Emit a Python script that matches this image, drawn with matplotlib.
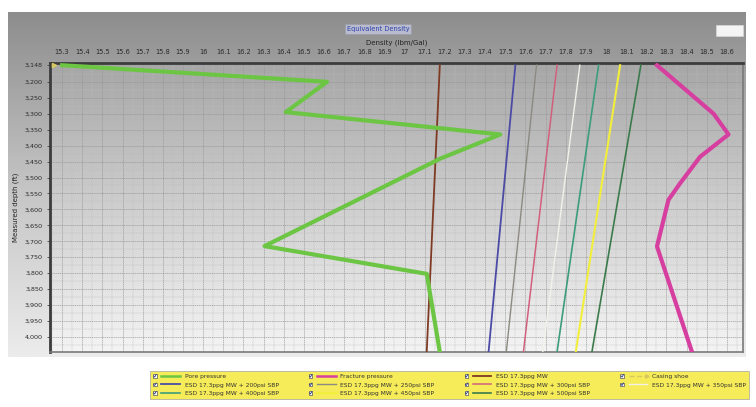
import numpy as np
import matplotlib
matplotlib.use("Agg")
import matplotlib.pyplot as plt
from matplotlib.lines import Line2D
from matplotlib.patches import Rectangle
from matplotlib.legend_handler import HandlerLine2D
from matplotlib.ticker import FixedLocator, MultipleLocator


# pore / fracture profiles (ppg vs measured depth, ft)
pore_depth = [3148, 3200, 3295, 3365, 3440, 3715, 3802, 4047]
pore_ppg = [15.30, 16.615, 16.41, 17.475, 17.18, 16.305, 17.11, 17.175]

frac_depth = [3148, 3300, 3365, 3435, 3518, 3570, 3716, 4047]
frac_ppg = [18.253, 18.534, 18.608, 18.467, 18.368, 18.31, 18.253, 18.427]

# ESD lines, top and bottom of the section
end_depth = [3148, 4047]
esd_ppg = [17.175, 17.11]
sbp_psi = [200, 250, 300, 350, 400, 450, 500]
sbp_top = [17.55, 17.655, 17.757, 17.87, 17.963, 18.07, 18.173]
sbp_bot = [17.417, 17.505, 17.59, 17.686, 17.757, 17.85, 17.93]
sbp_colors = ["#4b4ba6", "#8c8a80", "#d0607c", "#f2f2ea", "#3c9c7c", "#f2ef3c", "#3b7b4b"]
sbp_widths = [1.3, 1.0, 1.1, 1.0, 1.2, 1.5, 1.2]

shoe_depth = [3148]
shoe_ppg = [15.26]

x_ticks = [round(15.3 + 0.1 * i, 1) for i in range(34)]
depth_ticks = [3148] + list(range(3200, 4001, 50))


class CheckHandler(HandlerLine2D):
    # checkbox in front of the line sample
    def create_artists(self, legend, orig_handle, xdescent, ydescent,
                       width, height, fontsize, trans):
        s = height * 0.9
        box = Rectangle((-xdescent, -ydescent + (height - s) / 2), s, s,
                        facecolor="white", edgecolor="#555555", lw=0.5,
                        transform=trans)
        tick = Line2D([-xdescent + s * 0.2, -xdescent + s * 0.45, -xdescent + s * 0.85],
                      [-ydescent + height * 0.5, -ydescent + height * 0.25, -ydescent + height * 0.85],
                      color="#2a3a8a", lw=0.6, transform=trans)
        x0 = -xdescent + s * 2.2
        ym = -ydescent + height / 2
        ln = Line2D([x0, -xdescent + width], [ym, ym],
                    color=orig_handle.get_color(),
                    lw=min(orig_handle.get_linewidth(), 1.8),
                    ls=orig_handle.get_linestyle(), transform=trans)
        arts = [box, tick, ln]
        if orig_handle.get_marker() not in (None, "None", ""):
            mk = Line2D([-xdescent + width], [ym], marker=orig_handle.get_marker(),
                        markersize=2.5, color=orig_handle.get_color(),
                        ls="none", transform=trans)
            arts.append(mk)
        return arts


W, H = 756, 407
fig = plt.figure(figsize=(W / 100, H / 100), dpi=100, facecolor="white")

# gray panel behind the chart
panel = fig.add_axes([8 / W, 1 - 357 / H, 738 / W, 345 / H], zorder=-2)
grad = np.linspace(0, 1, 256).reshape(-1, 1)
panel.imshow(grad, cmap=matplotlib.colors.LinearSegmentedColormap.from_list(
    "p", ["#8d8d8d", "#c4c4c4", "#ececec"]), aspect="auto", extent=[0, 1, 0, 1])
panel.set_axis_off()

ax = fig.add_axes([50 / W, 1 - 352 / H, 693 / W, 289 / H])
ax.imshow(grad, cmap=matplotlib.colors.LinearSegmentedColormap.from_list(
    "a", ["#a6a6a6", "#cfcfcf", "#f4f4f4"]), aspect="auto",
    extent=[0, 1, 0, 1], transform=ax.transAxes, zorder=0)

ax.plot(pore_ppg, pore_depth, color="#6cc644", lw=3, label="Pore pressure", zorder=5)
ax.plot(frac_ppg, frac_depth, color="#d63fa0", lw=3, label="Fracture pressure", zorder=5)
ax.plot(esd_ppg, end_depth, color="#7e3a22", lw=1.3, label="ESD 17.3ppg MW", zorder=4)
sbp_lines = []
for p, t, b, c, w in zip(sbp_psi, sbp_top, sbp_bot, sbp_colors, sbp_widths):
    l, = ax.plot([t, b], end_depth, color=c, lw=w,
                 label=f"ESD 17.3ppg MW + {p}psi SBP", zorder=4)
    sbp_lines.append(l)
shoe, = ax.plot(shoe_ppg, shoe_depth, color="#d8c860", lw=1, ls="--", marker=">",
                markersize=3, label="Casing shoe", zorder=6)

ax.set_xlim(15.24, 18.68)
ax.set_ylim(4047, 3141)

ax.xaxis.tick_top()
ax.xaxis.set_label_position("top")
ax.xaxis.set_major_locator(FixedLocator(x_ticks))
ax.set_xticklabels([f"{v:g}" for v in x_ticks])
ax.xaxis.set_minor_locator(MultipleLocator(0.05))
ax.yaxis.set_major_locator(FixedLocator(depth_ticks))
ax.set_yticklabels([f"{d:,}" for d in depth_ticks])
ax.yaxis.set_minor_locator(MultipleLocator(25))

ax.tick_params(axis="x", which="both", length=0, pad=6, labelsize=4.8, labelcolor="#2a2a2a")
ax.tick_params(axis="y", which="major", length=2, width=0.6, pad=3, labelsize=4.6,
               labelcolor="#2a2a2a", color="#444444")
ax.tick_params(axis="y", which="minor", length=0)

ax.grid(which="major", color="#959595", lw=0.45, ls=(0, (2, 1)), zorder=1)
ax.grid(which="minor", color="#bdbdbd", lw=0.35, ls=(0, (2, 1)), zorder=1)
ax.set_axisbelow(True)

ax.set_xlabel("Density (lbm/Gal)", fontsize=5, color="#222222", labelpad=3)
ax.set_ylabel("Measured depth (ft)", fontsize=5, color="#222222", labelpad=4)

for side in ("top", "left"):
    ax.spines[side].set_color("#3c3c3c")
    ax.spines[side].set_linewidth(2)
for side in ("bottom", "right"):
    ax.spines[side].set_color("#7a7a7a")
    ax.spines[side].set_linewidth(1.2)

# chart title and logo box
fig.text(378 / W, 1 - 29 / H, "Equivalent Density", fontsize=4.8, color="#3040b0",
         ha="center", va="center",
         bbox=dict(boxstyle="square,pad=0.3", facecolor="#b8bccc", edgecolor="#9a9aa8", lw=0.4))
fig.patches.append(Rectangle((716 / W, 1 - 36 / H), 27 / W, 11 / H, transform=fig.transFigure,
                             facecolor="#f4f4f4", edgecolor="#dddddd", lw=0.4))

handles = [ax.lines[0], sbp_lines[0], sbp_lines[4],
           ax.lines[1], sbp_lines[1], sbp_lines[5],
           ax.lines[2], sbp_lines[2], sbp_lines[6],
           shoe, sbp_lines[3]]
leg = fig.legend(handles=handles, labels=[h.get_label() for h in handles],
                 loc="lower left", bbox_to_anchor=(147 / W, 5 / H, 605 / W, 40 / H),
                 mode="expand", ncol=4, fontsize=4.3, frameon=True, fancybox=False,
                 handlelength=4.5, handletextpad=0.8, borderpad=0.5, labelspacing=0.55,
                 columnspacing=1.0, handler_map={Line2D: CheckHandler()})
leg.get_frame().set_facecolor("#f4e62e")
leg.get_frame().set_edgecolor("#a0a0a0")
leg.get_frame().set_linewidth(0.6)
for t in leg.get_texts():
    t.set_color("#333333")

fig.savefig("out.png", dpi=100, facecolor=fig.get_facecolor())
